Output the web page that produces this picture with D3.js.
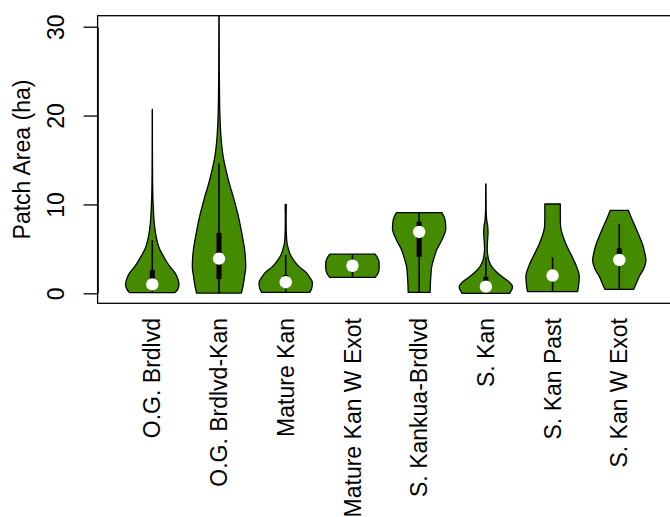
<!DOCTYPE html>
<html>
<head>
<meta charset="utf-8">
<script src="https://cdn.jsdelivr.net/npm/d3@7"></script>
<style>
  html, body { margin: 0; padding: 0; background: #fff; }
  svg { display: block; }
  text { font-family: "Liberation Sans", Arial, Helvetica, sans-serif; fill: #000; }
</style>
</head>
<body>
<svg id="chart" width="670" height="517"></svg>
<script>
// Patch area by vegetation class
const categories = [
  "O.G. Brdlvd", "O.G. Brdlvd-Kan", "Mature Kan", "Mature Kan W Exot",
  "S. Kankua-Brdlvd", "S. Kan", "S. Kan Past", "S. Kan W Exot"
];

// Box-plot summary per class (ha)
const lowerWhisker = [0.05, 0.03, 0.10, 1.80, 0.10, 0.00, 0.18, 0.45];
const q1           = [0.50, 1.60, 0.60, 2.60, 4.10, 0.30, 1.50, 3.20];
const medians      = [1.00, 3.90, 1.25, 3.10, 6.90, 0.75, 2.00, 3.75];
const q3           = [2.60, 6.80, 2.05, 3.60, 8.05, 1.85, 2.50, 5.06];
const upperWhisker = [6.00, 14.6, 4.30, 4.40, 9.07, 4.05, 4.05, 7.80];

// Kernel density outlines: [patch area (ha), density relative to the class maximum]
const densOGBrdlvd = [
  [0.07, 0.85], [0.5, 0.96], [1.0, 1.0], [1.5, 0.97], [2.3, 0.85], [3.0, 0.66],
  [4.1, 0.43], [5.0, 0.27], [6.0, 0.17], [6.8, 0.12], [8.0, 0.07], [9.5, 0.04],
  [10.5, 0.025], [13.0, 0.01], [16.0, 0.005], [20.7, 0.003]
];
const densOGBrdlvdKan = [
  [0.03, 0.84], [0.8, 0.9], [1.8, 0.95], [3.0, 1.0], [3.9, 0.99], [4.9, 0.96],
  [6.0, 0.9], [7.0, 0.84], [7.9, 0.78], [9.0, 0.7], [10.0, 0.61], [10.8, 0.54],
  [12.0, 0.42], [13.5, 0.29], [15.3, 0.16], [17.0, 0.09], [19.5, 0.04],
  [22.0, 0.02], [25.0, 0.01], [31.3, 0.005]
];
const densMatureKan = [
  [0.1, 0.9], [0.6, 0.98], [1.2, 1.0], [1.8, 0.9], [2.3, 0.78], [3.0, 0.5],
  [3.6, 0.33], [4.3, 0.18], [5.0, 0.1], [5.6, 0.05], [7.0, 0.02], [8.5, 0.015],
  [9.5, 0.02], [10.0, 0.02]
];
const densMatureKanWExot = [
  [1.8, 0.85], [2.2, 0.95], [2.8, 1.0], [3.4, 1.0], [4.0, 0.94], [4.4, 0.85]
];
const densSKankuaBrdlvd = [
  [0.1, 0.41], [1.0, 0.42], [2.0, 0.44], [3.0, 0.47], [4.0, 0.56], [4.9, 0.66],
  [6.0, 0.85], [7.3, 1.0], [8.3, 0.97], [9.07, 0.85]
];
const densSKan = [
  [0.0, 0.89], [0.4, 0.97], [0.75, 1.0], [1.2, 0.9], [1.9, 0.6], [2.4, 0.4],
  [3.0, 0.22], [3.6, 0.12], [4.3, 0.07], [4.9, 0.05], [5.8, 0.06], [6.8, 0.08],
  [7.5, 0.07], [8.3, 0.03], [9.5, 0.01], [12.3, 0.005]
];
const densSKanPast = [
  [0.18, 0.94], [1.0, 0.98], [1.9, 1.0], [3.0, 0.9], [4.0, 0.75], [4.9, 0.6],
  [5.7, 0.48], [6.5, 0.38], [7.5, 0.3], [8.5, 0.29], [10.05, 0.29]
];
const densSKanWExot = [
  [0.45, 0.54], [1.0, 0.62], [1.9, 0.75], [2.8, 0.92], [3.75, 1.0], [4.6, 0.95],
  [5.6, 0.86], [6.5, 0.74], [7.5, 0.6], [8.5, 0.45], [9.34, 0.34]
];
const densities = [
  densOGBrdlvd, densOGBrdlvdKan, densMatureKan, densMatureKanWExot,
  densSKankuaBrdlvd, densSKan, densSKanPast, densSKanWExot
];

const yTicks = [0, 10, 20, 30];
const yTitle = "Patch Area (ha)";

// ---- layout ----
const svg = d3.select("#chart");
const plot = { left: 97.6, right: 674, top: 15.7, bottom: 303.3 };

// positions 1..n, padded like an R plot region
const n = categories.length;
const xLo = 0.5 - 0.04 * n, xHi = n + 0.5 + 0.04 * n;
const x = d3.scaleLinear().domain([xLo, xHi]).range([plot.left, plot.right]);
const y = d3.scaleLinear().domain([0, 30]).range([293.3, 26.7]);
const halfWidth = d3.scaleLinear().domain([0, 1]).range([0, x(1.4) - x(1)]);
const boxHalf = (x(1.0375) - x(1));

svg.append("clipPath").attr("id", "plot-clip")
  .append("rect")
  .attr("x", plot.left).attr("y", plot.top)
  .attr("width", plot.right - plot.left).attr("height", plot.bottom - plot.top);

const g = svg.append("g").attr("clip-path", "url(#plot-clip)");

categories.forEach((name, i) => {
  const cx = x(i + 1);
  const area = d3.area()
    .y(d => y(d[0]))
    .x0(d => cx - halfWidth(d[1]))
    .x1(d => cx + halfWidth(d[1]))
    .curve(d3.curveMonotoneY);

  g.append("path")
    .datum(densities[i])
    .attr("d", area)
    .attr("fill", "#458B00")
    .attr("stroke", "#000")
    .attr("stroke-width", 1.3)
    .attr("stroke-linejoin", "round");

  g.append("line")
    .attr("x1", cx).attr("x2", cx)
    .attr("y1", y(lowerWhisker[i])).attr("y2", y(upperWhisker[i]))
    .attr("stroke", "#000").attr("stroke-width", 1.6);

  g.append("rect")
    .attr("x", cx - boxHalf).attr("width", boxHalf * 2)
    .attr("y", y(q3[i])).attr("height", y(q1[i]) - y(q3[i]))
    .attr("fill", "#000");

  g.append("circle")
    .attr("cx", cx).attr("cy", y(medians[i])).attr("r", 6.2)
    .attr("fill", "#fff");
});

// frame
svg.append("rect")
  .attr("x", plot.left).attr("y", plot.top)
  .attr("width", plot.right - plot.left).attr("height", plot.bottom - plot.top)
  .attr("fill", "none").attr("stroke", "#000").attr("stroke-width", 1.3);

// y axis, labels parallel to the axis
const yAxis = svg.append("g").attr("transform", `translate(${plot.left},0)`)
  .call(d3.axisLeft(y).tickValues(yTicks).tickSize(14).tickSizeOuter(0).tickFormat(d3.format("d")));
yAxis.select(".domain").attr("stroke", "#000").attr("stroke-width", 1.3);
yAxis.selectAll(".tick line").attr("stroke", "#000").attr("stroke-width", 1.3);
yAxis.selectAll(".tick text")
  .attr("x", null).attr("dy", null)
  .attr("text-anchor", "middle")
  .attr("font-size", 23)
  .attr("transform", `translate(${64 - plot.left},0) rotate(-90)`)
  .attr("y", 0);

// category labels, vertical
svg.append("g").selectAll("text")
  .data(categories)
  .join("text")
  .attr("transform", (d, i) => `translate(${x(i + 1)},318) rotate(-90)`)
  .attr("text-anchor", "end")
  .attr("dy", "0.35em")
  .attr("font-size", 23)
  .text(d => d);

// y title
svg.append("text")
  .attr("transform", `translate(30,${(plot.top + plot.bottom) / 2}) rotate(-90)`)
  .attr("text-anchor", "middle")
  .attr("font-size", 23)
  .text(yTitle);
</script>
</body>
</html>
